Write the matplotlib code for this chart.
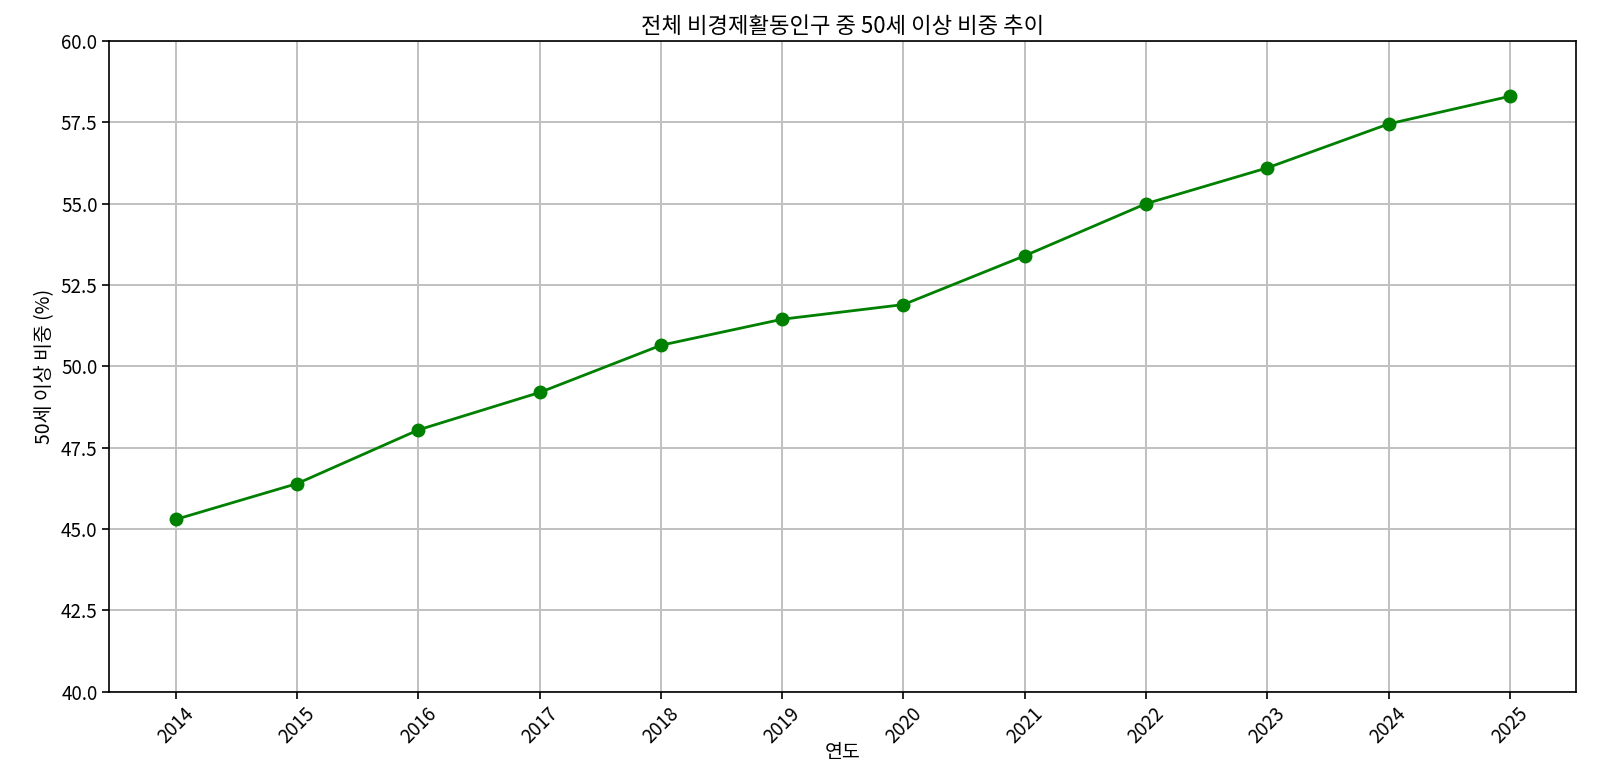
import matplotlib
matplotlib.use('Agg')
import matplotlib.pyplot as plt

plt.rcParams['font.family'] = ['Noto Sans CJK KR', 'DejaVu Sans']
plt.rcParams['axes.unicode_minus'] = False

# Data
years = [2014, 2015, 2016, 2017, 2018, 2019, 2020, 2021, 2022, 2023, 2024, 2025]
share50 = [45.3, 46.4, 48.05, 49.2, 50.65, 51.45, 51.9, 53.4, 55.0, 56.1, 57.45, 58.3]

fig, ax = plt.subplots(figsize=(16.07, 7.73), dpi=100)
fig.subplots_adjust(left=0.068, right=0.981, top=0.947, bottom=0.105)

ax.plot(years, share50, marker='o', color='green', linewidth=2.0, markersize=9)
ax.set_title('전체 비경제활동인구 중 50세 이상 비중 추이', fontsize=16)
ax.set_xlabel('연도', fontsize=14, labelpad=-4)
ax.set_ylabel('50세 이상 비중 (%)', fontsize=14)
ax.set_ylim(40, 60)
ax.set_xticks(years)
ax.set_xticklabels([str(y) for y in years], rotation=45)
ax.tick_params(labelsize=13.5, length=5, width=1.2)
for s in ax.spines.values():
    s.set_linewidth(1.2)
ax.grid(True, color='#c0c0c0', linewidth=1.4)

fig.savefig('out.png', dpi=100)
